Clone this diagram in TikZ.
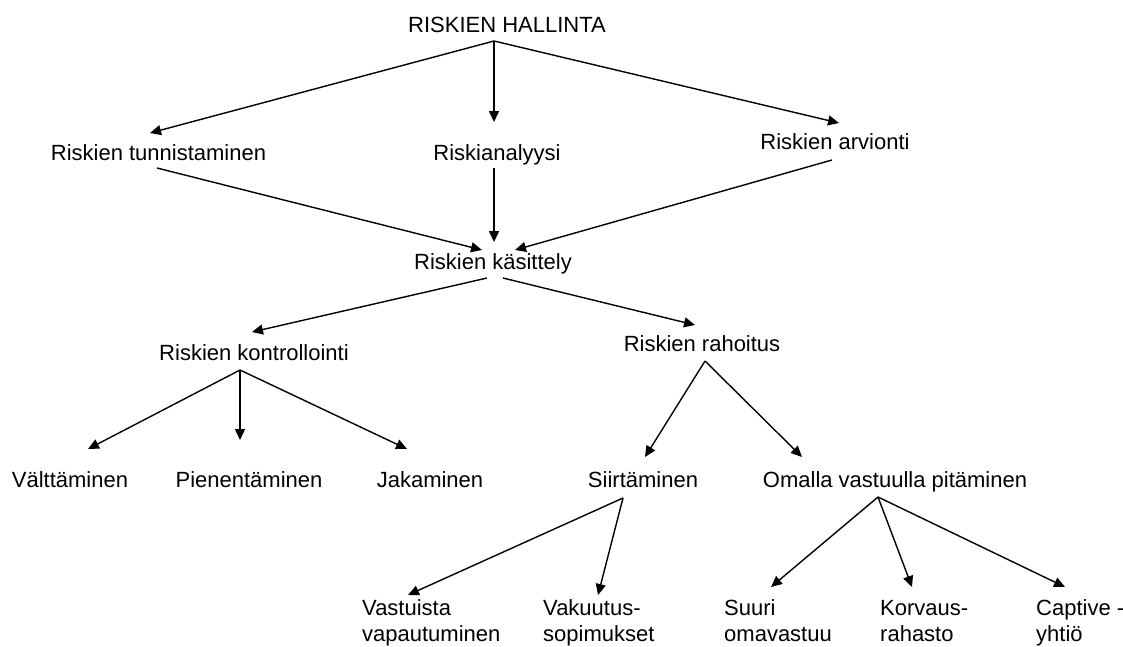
\documentclass[tikz,border=0pt]{standalone}
\usepackage{fontspec}
\setmainfont{Liberation Sans}
\usetikzlibrary{arrows.meta}
\newcommand\twoline[2]{\vtop{\hbox{#1}\hbox{#2}}}
\begin{document}
\begin{tikzpicture}[x=1pt,y=-1pt,
  lbl/.style={inner sep=0pt, anchor=base, font=\fontsize{22}{26.5}\selectfont},
  lblw/.style={lbl, anchor=base west},
  arr/.style={-{Triangle[length=11pt,width=10pt]}, line width=1.4pt}]
\useasboundingbox (0,0) rectangle (1123,646);
\fill[white] (0,0) rectangle (1123,646);
% nodes
\node[lbl] (root) at (507,32) {RISKIEN HALLINTA};
\node[lbl] (tun) at (158.5,160) {Riskien tunnistaminen};
\node[lbl] (ana) at (497,160) {Riskianalyysi};
\node[lbl] (arv) at (835,149) {Riskien arvionti};
\node[lbl] (kas) at (493,269) {Riskien käsittely};
\node[lbl] (kon) at (254,360) {Riskien kontrollointi};
\node[lbl] (rah) at (702,351) {Riskien rahoitus};
\node[lbl] (val) at (70,487) {Välttäminen};
\node[lbl] (pie) at (249,487) {Pienentäminen};
\node[lbl] (jak) at (430,487) {Jakaminen};
\node[lbl] (sii) at (643,487) {Siirtäminen};
\node[lbl] (oma) at (895,487) {Omalla vastuulla pitäminen};
\node[lblw] (vas) at (362,615) {\twoline{Vastuista}{vapautuminen}};
\node[lblw] (vak) at (543,615) {\twoline{Vakuutus-}{sopimukset}};
\node[lblw] (suu) at (724,615) {\twoline{Suuri}{omavastuu}};
\node[lblw] (kor) at (880,615) {\twoline{Korvaus-}{rahasto}};
\node[lblw] (cap) at (1036,615) {\twoline{Captive -}{yhtiö}};
% connection points
\coordinate (rootO) at (494,41);
\coordinate (tunT) at (150,133);
\coordinate (anaT) at (494,122);
\coordinate (arvT) at (839,123);
\coordinate (tunO) at (157,168);
\coordinate (anaO) at (494,168);
\coordinate (arvO) at (832,160);
\coordinate (kasTl) at (482,250);
\coordinate (kasT) at (494,242);
\coordinate (kasTr) at (515,250);
\coordinate (kasOl) at (487,278);
\coordinate (kasOr) at (503,278);
\coordinate (konT) at (252,332);
\coordinate (rahT) at (695,325);
\coordinate (konO) at (240,370);
\coordinate (valT) at (88,449);
\coordinate (pieT) at (240,440);
\coordinate (jakT) at (407,449);
\coordinate (rahO) at (705,361);
\coordinate (siiT) at (645,457);
\coordinate (omaT) at (802,457);
\coordinate (siiO) at (623,498);
\coordinate (vasT) at (408,595);
\coordinate (vakT) at (598,595);
\coordinate (omaO) at (878,497);
\coordinate (suuT) at (771,587);
\coordinate (korT) at (912,587);
\coordinate (capT) at (1065,587);
% connectors
\draw[arr] (rootO) -- (tunT);
\draw[arr] (rootO) -- (anaT);
\draw[arr] (rootO) -- (arvT);
\draw[arr] (tunO) -- (kasTl);
\draw[arr] (anaO) -- (kasT);
\draw[arr] (arvO) -- (kasTr);
\draw[arr] (kasOl) -- (konT);
\draw[arr] (kasOr) -- (rahT);
\draw[arr] (konO) -- (valT);
\draw[arr] (konO) -- (pieT);
\draw[arr] (konO) -- (jakT);
\draw[arr] (rahO) -- (siiT);
\draw[arr] (rahO) -- (omaT);
\draw[arr] (siiO) -- (vasT);
\draw[arr] (siiO) -- (vakT);
\draw[arr] (omaO) -- (suuT);
\draw[arr] (omaO) -- (korT);
\draw[arr] (omaO) -- (capT);
\end{tikzpicture}
\end{document}
